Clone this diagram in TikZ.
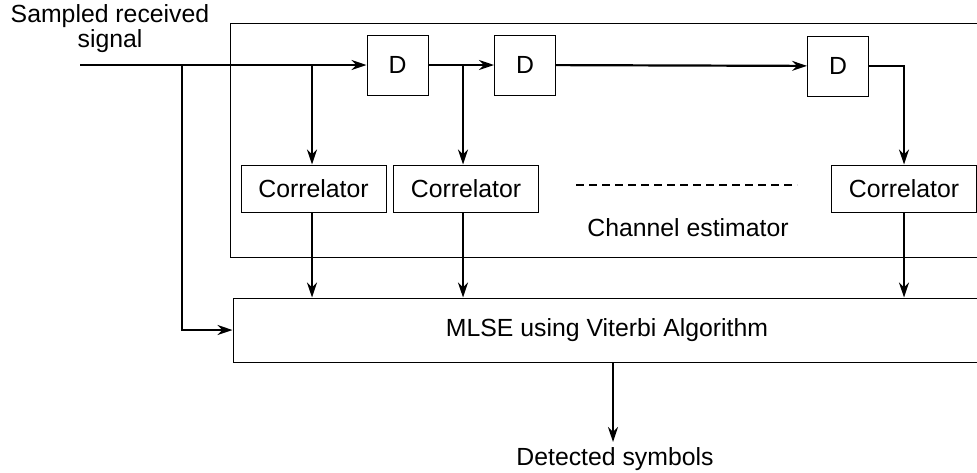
\documentclass[tikz,border=0pt]{standalone}
\usepackage{fontspec}
\setmainfont{Liberation Sans}
\usepackage{tikz}
\usetikzlibrary{positioning,arrows.meta}

\begin{document}
\begin{tikzpicture}[x=0.5pt,y=-0.5pt,font=\fontsize{12.4}{10}\selectfont]
	\tikzstyle{blk} = [draw=black, line width=0.5pt, inner sep=0pt]
\tikzstyle{dly} = [blk, minimum width=30.5pt, minimum height=30pt]
\tikzstyle{corr} = [blk, minimum width=72.5pt, minimum height=23.5pt]
\tikzstyle{line} = [line width=1.1pt,>={Stealth[length=7.5pt,width=5pt]}]
\clip (0,0) rectangle (977,472);
% boxes
\node(est)[blk, minimum width=377pt, minimum height=117pt] at (607,140) {};
\node(mlse)[blk, minimum width=374pt, minimum height=32pt] at (607,330) {MLSE using Viterbi Algorithm};
\node(d1)[dly] at (397.5,65) {D};
\node(d2)[dly] at (525,65) {D};
\node(d3)[dly] at (838,66) {D};
\node(c1)[corr] at (313.5,188.5) {Correlator};
\node(c2)[corr] at (466,188.5) {Correlator};
\node(c3)[corr] at (904,188.5) {Correlator};
\node(lbl)[] at (688,228) {Channel estimator};
\node(sig)[align=center] at (110,29) {Sampled received\\signal};
\node(det)[] at (615,459) {Detected symbols};
\coordinate(in) at (80,65);
\coordinate(t0) at (182,65);
\coordinate(t1) at (312,65);
\coordinate(t2) at (463,65);
\coordinate(ds) at (576,185);
\coordinate(de) at (797,185);
\coordinate(out) at (613,442);
% signal path
\draw[line,->] (in) -- (d1);
\draw[line,->] (d1) -- (d2);
\draw[line,->] (d2) -- (d3);
\draw[line,->] (d3.east) -| (c3.north);
\draw[line,->] (t0) |- (mlse.west);
\draw[line,->] (t1) -- (t1 |- c1.north);
\draw[line,->] (t2) -- (t2 |- c2.north);
\draw[line,->] (c1.south -| t1) -- (t1 |- mlse.north);
\draw[line,->] (c2.south -| t2) -- (t2 |- mlse.north);
\draw[line,->] (c3.south) -- (c3.south |- mlse.north);
\draw[line,->] (mlse.south -| out) -- (out);
\draw[line,dash pattern=on 4pt off 2.5pt] (ds) -- (de);
  \end{tikzpicture}
\end{document}
